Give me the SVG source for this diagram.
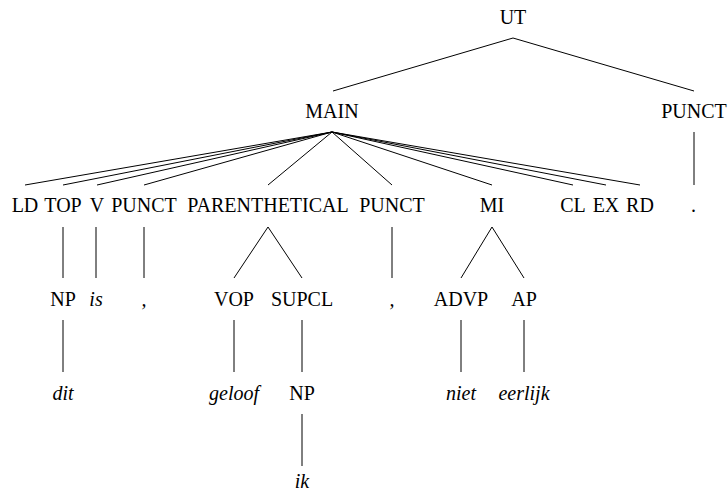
<svg xmlns="http://www.w3.org/2000/svg" width="728" height="491" viewBox="0 0 728 491">
<rect width="728" height="491" fill="#fff"/>
<g id="edges" stroke="#000" stroke-width="1" fill="none">
<line x1="513" y1="38" x2="333" y2="91"/>
<line x1="513" y1="38" x2="694" y2="91"/>
<line x1="332" y1="132" x2="25" y2="185"/>
<line x1="332" y1="132" x2="63" y2="185"/>
<line x1="332" y1="132" x2="97" y2="185"/>
<line x1="332" y1="132" x2="144" y2="185"/>
<line x1="332" y1="132" x2="268" y2="185"/>
<line x1="332" y1="132" x2="392" y2="185"/>
<line x1="332" y1="132" x2="492" y2="185"/>
<line x1="332" y1="132" x2="573" y2="185"/>
<line x1="332" y1="132" x2="606" y2="185"/>
<line x1="332" y1="132" x2="640" y2="185"/>
<line x1="694" y1="132" x2="694" y2="185"/>
<line x1="63" y1="227" x2="63" y2="278"/>
<line x1="96" y1="227" x2="96" y2="278"/>
<line x1="144" y1="227" x2="144" y2="278"/>
<line x1="268" y1="227" x2="234" y2="278"/>
<line x1="268" y1="227" x2="302" y2="278"/>
<line x1="392" y1="227" x2="392" y2="278"/>
<line x1="492" y1="227" x2="461" y2="278"/>
<line x1="492" y1="227" x2="524" y2="278"/>
<line x1="63" y1="320" x2="63" y2="372"/>
<line x1="234" y1="320" x2="234" y2="372"/>
<line x1="302" y1="320" x2="302" y2="372"/>
<line x1="461" y1="320" x2="461" y2="372"/>
<line x1="524" y1="320" x2="524" y2="372"/>
<line x1="302" y1="414" x2="302" y2="466"/>
</g>
<g id="n-ut"><text x="513" y="24" font-size="20" font-family="Times New Roman" text-anchor="middle">UT</text></g>
<g id="n-main"><text x="332" y="118" font-size="20" font-family="Times New Roman" text-anchor="middle">MAIN</text></g>
<g id="n-punct-top"><text x="694" y="118" font-size="20" font-family="Times New Roman" text-anchor="middle">PUNCT</text></g>
<g id="n-ld"><text x="25" y="212" font-size="20" font-family="Times New Roman" text-anchor="middle">LD</text></g>
<g id="n-top"><text x="63" y="212" font-size="20" font-family="Times New Roman" text-anchor="middle">TOP</text></g>
<g id="n-v"><text x="97" y="212" font-size="20" font-family="Times New Roman" text-anchor="middle">V</text></g>
<g id="n-punct1"><text x="144" y="212" font-size="20" font-family="Times New Roman" text-anchor="middle">PUNCT</text></g>
<g id="n-parenthetical"><text x="268" y="212" font-size="20" font-family="Times New Roman" text-anchor="middle">PARENTHETICAL</text></g>
<g id="n-punct2"><text x="392" y="212" font-size="20" font-family="Times New Roman" text-anchor="middle">PUNCT</text></g>
<g id="n-mi"><text x="492" y="212" font-size="20" font-family="Times New Roman" text-anchor="middle">MI</text></g>
<g id="n-cl"><text x="573" y="212" font-size="20" font-family="Times New Roman" text-anchor="middle">CL</text></g>
<g id="n-ex"><text x="606" y="212" font-size="20" font-family="Times New Roman" text-anchor="middle">EX</text></g>
<g id="n-rd"><text x="640" y="212" font-size="20" font-family="Times New Roman" text-anchor="middle">RD</text></g>
<g id="n-period"><text x="694" y="212" font-size="20" font-family="Times New Roman" font-style="italic" text-anchor="middle">.</text></g>
<g id="n-np1"><text x="63" y="306" font-size="20" font-family="Times New Roman" text-anchor="middle">NP</text></g>
<g id="n-is"><text x="96" y="306" font-size="20" font-family="Times New Roman" font-style="italic" text-anchor="middle">is</text></g>
<g id="n-comma1"><text x="144" y="306" font-size="20" font-family="Times New Roman" font-style="italic" text-anchor="middle">,</text></g>
<g id="n-vop"><text x="234" y="306" font-size="20" font-family="Times New Roman" text-anchor="middle">VOP</text></g>
<g id="n-supcl"><text x="302" y="306" font-size="20" font-family="Times New Roman" text-anchor="middle">SUPCL</text></g>
<g id="n-comma2"><text x="392" y="306" font-size="20" font-family="Times New Roman" font-style="italic" text-anchor="middle">,</text></g>
<g id="n-advp"><text x="461" y="306" font-size="20" font-family="Times New Roman" text-anchor="middle">ADVP</text></g>
<g id="n-ap"><text x="524" y="306" font-size="20" font-family="Times New Roman" text-anchor="middle">AP</text></g>
<g id="n-dit"><text x="63" y="400" font-size="20" font-family="Times New Roman" font-style="italic" text-anchor="middle">dit</text></g>
<g id="n-geloof"><text x="234" y="400" font-size="20" font-family="Times New Roman" font-style="italic" text-anchor="middle">geloof</text></g>
<g id="n-np2"><text x="302" y="400" font-size="20" font-family="Times New Roman" text-anchor="middle">NP</text></g>
<g id="n-niet"><text x="461" y="400" font-size="20" font-family="Times New Roman" font-style="italic" text-anchor="middle">niet</text></g>
<g id="n-eerlijk"><text x="524" y="400" font-size="20" font-family="Times New Roman" font-style="italic" text-anchor="middle">eerlijk</text></g>
<g id="n-ik"><text x="302" y="488" font-size="20" font-family="Times New Roman" font-style="italic" text-anchor="middle">ik</text></g>
</svg>
